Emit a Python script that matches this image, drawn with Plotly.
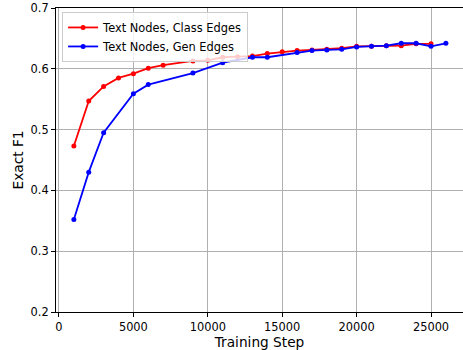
import plotly.graph_objects as go

class_steps = [1000, 2000, 3000, 4000, 5000, 6000, 7000, 9000, 10000, 11000, 12000, 13000,
               14000, 15000, 16000, 17000, 18000, 19000, 20000, 21000, 22000, 23000, 24000, 25000]
class_f1 = [0.473, 0.547, 0.571, 0.585, 0.592, 0.601, 0.606, 0.613, 0.614, 0.619, 0.620, 0.621,
            0.625, 0.628, 0.630, 0.631, 0.632, 0.634, 0.637, 0.637, 0.638, 0.638, 0.641, 0.641]

gen_steps = [1000, 2000, 3000, 5000, 6000, 9000, 11000, 13000, 14000, 16000, 17000, 18000,
             19000, 20000, 21000, 22000, 23000, 24000, 25000, 26000]
gen_f1 = [0.352, 0.430, 0.495, 0.559, 0.574, 0.593, 0.610, 0.619, 0.619, 0.627, 0.630, 0.631,
          0.632, 0.636, 0.637, 0.638, 0.642, 0.642, 0.637, 0.642]

x_ticks = [0, 5000, 10000, 15000, 20000, 25000]
y_ticks = [0.2, 0.3, 0.4, 0.5, 0.6, 0.7]

font = "DejaVu Sans"

fig = go.Figure()
fig.add_trace(go.Scatter(x=class_steps, y=class_f1, mode="lines+markers",
                         name="Text Nodes, Class Edges",
                         line=dict(color="#ff0000", width=1.8),
                         marker=dict(color="#ff0000", size=5)))
fig.add_trace(go.Scatter(x=gen_steps, y=gen_f1, mode="lines+markers",
                         name="Text Nodes, Gen Edges",
                         line=dict(color="#0000ff", width=1.8),
                         marker=dict(color="#0000ff", size=5)))

axis_common = dict(showline=True, linecolor="black", linewidth=1, mirror=True,
                   showgrid=True, gridcolor="#b0b0b0", gridwidth=0.8,
                   ticks="outside", ticklen=4, tickcolor="black", tickwidth=1,
                   zeroline=False, automargin=False,
                   tickfont=dict(family=font, size=11.4, color="black"))

fig.update_xaxes(range=[-200, 27150], tickvals=x_ticks, ticktext=[str(v) for v in x_ticks],
                 title=dict(text="Training Step", font=dict(family=font, size=13.7, color="black"),
                            standoff=2),
                 **axis_common)
fig.update_yaxes(range=[0.2, 0.7], tickvals=y_ticks, ticktext=[f"{v:.1f}" for v in y_ticks],
                 title=dict(text="Exact F1", font=dict(family=font, size=13.7, color="black"),
                            standoff=3),
                 **axis_common)

fig.update_layout(width=463, height=350,
                  margin=dict(l=56, r=0, t=8, b=38),
                  plot_bgcolor="white", paper_bgcolor="white",
                  font=dict(family=font, color="black"),
                  legend=dict(x=0.015, y=0.987, xanchor="left", yanchor="top",
                              bgcolor="rgba(255,255,255,0.8)", bordercolor="#cccccc",
                              borderwidth=1, font=dict(family=font, size=11.4, color="black"),
                              tracegroupgap=0, itemwidth=30))

fig.write_html("out.html", config={"displayModeBar": False},
               post_script="document.body.style.margin='0';")
